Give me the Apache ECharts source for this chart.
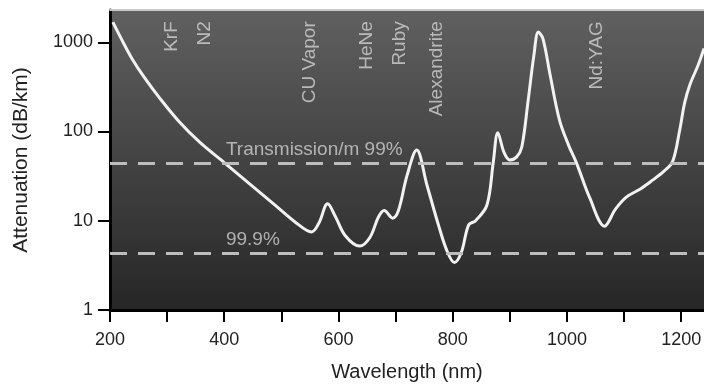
<!DOCTYPE html>
<html>
<head>
<meta charset="utf-8">
<script src="https://cdn.jsdelivr.net/npm/echarts@6/dist/echarts.min.js"></script>
<style>html,body{margin:0;padding:0;background:#fff}#c{width:704px;height:385px}</style>
</head>
<body>
<div id="c"></div>
<script>
// Fiber attenuation curve (wavelength nm, attenuation dB/km)
const wavelengths = [205,221,238,261,287,322,357,401,445,489,524,553,566,581,595,612,637,655,670,680,695,705,720,737,755,775,790,803,815,828,840,860,871,879,890,900,912,921,932,942,950,958,970,987,1003,1017,1040,1066,1085,1104,1130,1150,1170,1185,1197,1206,1215,1230,1240];
const attenuation = [1680,1056,664,396,237,127,76,44.3,25.8,15,9.7,7.5,9.5,15.5,11,6.8,5.2,6.5,11,13,10.7,13,32,62,25,9,4.6,3.4,4.4,9,10,15,45,97,58,48,52,67,220,700,1300,1100,450,134,70,44,18,8.7,13.5,18.4,23,28.5,36,46,100,208,331,560,850];

// Laser lines (labels at top)
const laserNames = ['KrF','N2','CU Vapor','HeNe','Ruby','Alexandrite','Nd:YAG'];
const laserWavelengths = [308,366,550,650,707,772,1052];
const laserLabelValue = 1720;

// Transmission reference lines
const refLabels = ['Transmission/m 99%','99.9%'];
const refValues = [43.6,4.35];
const refLabelWavelength = 403;

const xTicks = [200,400,600,800,1000,1200];
const yTicks = [1,10,100,1000];

const chart = echarts.init(document.getElementById('c'));
const font = '"Liberation Sans", Arial, Helvetica, sans-serif';

chart.setOption({
  animation: false,
  grid: {
    left: 110, right: 0, top: 10, bottom: 75,
    containLabel: false, outerBoundsMode: 'none',
    show: true, borderWidth: 0,
    backgroundColor: {type:'linear', x:0, y:0, x2:0, y2:1, colorStops:[{offset:0,color:'#606060'},{offset:1,color:'#262626'}]}
  },
  xAxis: [{
    type: 'value', min: 200, max: 1240, interval: 100,
    name: 'Wavelength (nm)', nameLocation: 'middle', nameGap: 52,
    nameTextStyle: {fontFamily: font, fontSize: 20, color: '#222'},
    axisLine: {show: true, onZero: false, lineStyle: {color: '#000', width: 3}},
    axisTick: {show: true, inside: false, length: 12, lineStyle: {color: '#000', width: 2}},
    axisLabel: {fontFamily: font, fontSize: 18, color: '#222', margin: 21, showMaxLabel: false,
      formatter: v => xTicks.indexOf(v) >= 0 ? String(v) : ''},
    splitLine: {show: false}
  },{
    type: 'value', position: 'top', min: 200, max: 1240,
    axisLine: {show: true, lineStyle: {color: '#c8c8c8', width: 2}},
    axisTick: {show: false}, axisLabel: {show: false}, splitLine: {show: false}
  }],
  yAxis: {
    type: 'log', logBase: 10, min: 1, max: 2300,
    name: 'Attenuation (dB/km)', nameLocation: 'middle', nameGap: 78,
    nameTextStyle: {fontFamily: font, fontSize: 21, color: '#222'},
    axisLine: {show: true, lineStyle: {color: '#000', width: 3}},
    axisTick: {show: true, inside: false, length: 12, lineStyle: {color: '#000', width: 2}},
    axisLabel: {fontFamily: font, fontSize: 18, color: '#222', margin: 17, showMaxLabel: false,
      formatter: v => yTicks.indexOf(Math.round(v)) >= 0 ? String(Math.round(v)) : ''},
    splitLine: {show: false},
    minorTick: {show: false}
  },
  series: [{
    type: 'line',
    data: wavelengths.map((w, i) => [w, attenuation[i]]),
    smooth: 0.35,
    showSymbol: false,
    lineStyle: {color: '#f2f2f2', width: 3},
    markLine: {
      silent: true, symbol: 'none',
      label: {show: false},
      lineStyle: {color: '#bdbdbd', type: [17, 11], width: 3},
      data: refValues.map(v => ({yAxis: v}))
    },
    z: 3
  },{
    type: 'scatter',
    symbolSize: 0,
    data: laserWavelengths.map((w, i) => ({value: [w, laserLabelValue], name: laserNames[i]})),
    label: {
      show: true, position: 'inside', rotate: 90, align: 'right', verticalAlign: 'middle',
      formatter: p => p.name, fontFamily: font, fontSize: 19, color: '#d2d2d2'
    },
    z: 4
  },{
    type: 'scatter',
    symbolSize: 0,
    data: refValues.map((v, i) => ({value: [refLabelWavelength, v], name: refLabels[i]})),
    label: {
      show: true, position: [0, 0], align: 'left', verticalAlign: 'bottom', offset: [0, -4],
      formatter: p => p.name, fontFamily: font, fontSize: 19, color: '#cfcfcf'
    },
    z: 4
  }]
});
</script>
</body>
</html>
